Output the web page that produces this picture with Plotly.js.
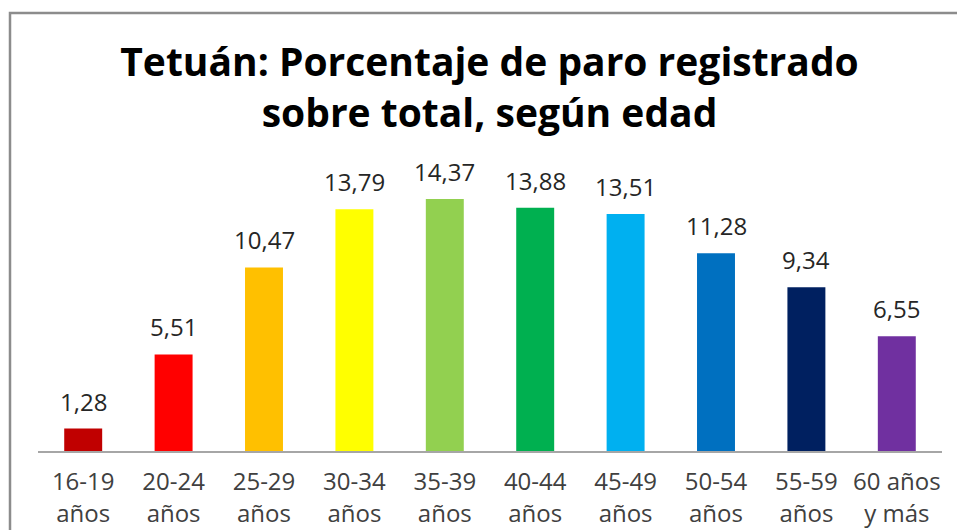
<!DOCTYPE html>
<html><head><meta charset="utf-8">
<script src="https://cdn.plot.ly/plotly-3.0.1.min.js"></script>
<style>html,body{margin:0;padding:0;background:#fff}#chart{width:957px;height:530px}</style>
</head><body><div id="chart"></div>
<script>
const categories = ["16-19<br>años","20-24<br>años","25-29<br>años","30-34<br>años","35-39<br>años","40-44<br>años","45-49<br>años","50-54<br>años","55-59<br>años","60 años<br>y más"];
const values = [1.28, 5.51, 10.47, 13.79, 14.37, 13.88, 13.51, 11.28, 9.34, 6.55];
const labels = ["1,28","5,51","10,47","13,79","14,37","13,88","13,51","11,28","9,34","6,55"];
const colors = ["#C00000","#FF0000","#FFC000","#FFFF00","#92D050","#00B050","#00B0F0","#0070C0","#002060","#7030A0"];

const W = 957, H = 530;
const m = {l:38, r:15, t:188, b:79};
const pw = W - m.l - m.r, ph = H - m.t - m.b;
const px2x = p => (p - m.l) / pw;
const py2y = p => (H - m.b - p) / ph;
const FONT = '"Open Sans", sans-serif';

const annotations = categories.map((c, i) => ({
  x: c, y: values[i], xref:'x', yref:'y', text: labels[i], showarrow:false,
  yanchor:'bottom', yshift:9, font:{family:FONT, size:24, color:'#262626'}
}));

Plotly.newPlot('chart', [{
  type:'bar', x:categories, y:values,
  marker:{color:colors},
  hoverinfo:'none'
}], {
  width:W, height:H, margin:m,
  paper_bgcolor:'#fff', plot_bgcolor:'#fff',
  bargap:0.58,
  showlegend:false,
  title:{text:'Tetuán: Porcentaje de paro registrado<br>sobre total, según edad',
    font:{family:FONT, size:39, color:'#000', weight:'bold'},
    x:0.5115, xanchor:'center', y:0.856, yanchor:'middle'},
  xaxis:{showline:true, linecolor:'#A6A6A6', linewidth:1.5, ticks:'', showgrid:false,
    ticklabelstandoff:9,
    tickfont:{family:FONT, size:24, color:'#404040'}, fixedrange:true},
  yaxis:{range:[0,15], visible:false, showgrid:false, zeroline:false, fixedrange:true},
  annotations: annotations,
  shapes:[{type:'rect', xref:'paper', yref:'paper', x0:px2x(10), x1:px2x(962), y0:py2y(540), y1:py2y(13),
    line:{color:'#8C8C8C', width:2.5}, fillcolor:'rgba(0,0,0,0)', layer:'below'}]
}, {staticPlot:true});
</script></body></html>
